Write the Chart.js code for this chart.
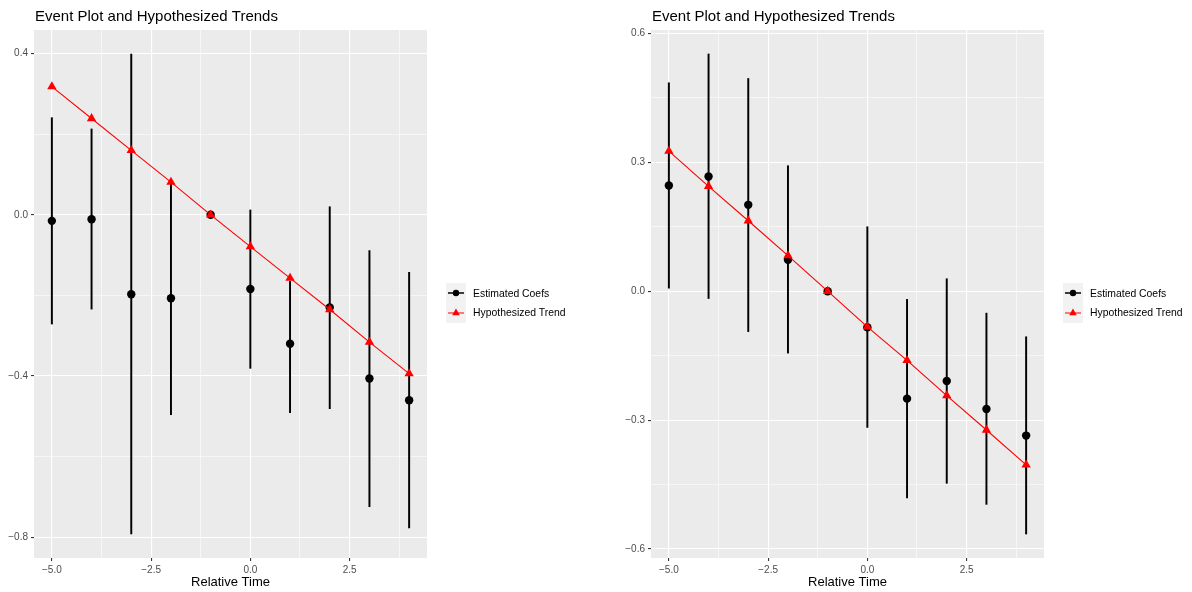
<!DOCTYPE html>
<html>
<head>
<meta charset="utf-8">
<title>Event Plot and Hypothesized Trends</title>
<script src="https://cdn.jsdelivr.net/npm/chart.js@4.4.1/dist/chart.umd.min.js"></script>
<style>
  body { margin: 0; background: #fff; }
  #wrap { position: relative; width: 1192px; height: 592px; }
  canvas { position: absolute; top: 0; }
</style>
</head>
<body>
<div id="wrap">
  <canvas id="leftPlot" width="596" height="592" style="left:0px"></canvas>
  <canvas id="rightPlot" width="596" height="592" style="left:596px"></canvas>
</div>
<script>
// data

var relTime = [-5, -4, -3, -2, -1, 0, 1, 2, 3, 4];

// left panel
var coefLeft  = [-0.015, -0.011, -0.197, -0.207, 0, -0.184, -0.320, -0.230, -0.406, -0.460];
var lowLeft   = [-0.271, -0.234, -0.792, -0.496, 0, -0.381, -0.491, -0.481, -0.724, -0.777];
var highLeft  = [ 0.241,  0.213,  0.399,  0.080, 0,  0.012, -0.165,  0.020, -0.089, -0.143];
var trendLeft = [ 0.318,  0.239,  0.160,  0.081, 0, -0.079, -0.157, -0.235, -0.316, -0.394];

// right panel
var coefRight  = [0.246, 0.267, 0.201, 0.073, 0, -0.084, -0.250, -0.209, -0.274, -0.336];
var lowRight   = [0.007, -0.017, -0.094, -0.144, 0, -0.317, -0.481, -0.447, -0.496, -0.565];
var highRight  = [0.485, 0.552, 0.495, 0.292, 0, 0.150, -0.019, 0.029, -0.051, -0.106];
var trendRight = [0.326, 0.244, 0.164, 0.083, 0, -0.083, -0.161, -0.243, -0.323, -0.404];

// ticks
var xMajor = [-5, -2.5, 0, 2.5];
var xMinor = [-3.75, -1.25, 1.25, 3.75];
var xLabels = ['\u22125.0', '\u22122.5', '0.0', '2.5'];

var yMajorLeft = [-0.8, -0.4, 0, 0.4];
var yMinorLeft = [-0.6, -0.2, 0.2];
var yLabelsLeft = ['\u22120.8', '\u22120.4', '0.0', '0.4'];

var yMajorRight = [-0.6, -0.3, 0, 0.3, 0.6];
var yMinorRight = [-0.45, -0.15, 0.15, 0.45];
var yLabelsRight = ['\u22120.6', '\u22120.3', '0.0', '0.3', '0.6'];

var titleText = 'Event Plot and Hypothesized Trends';
var legendNames = ['Estimated Coefs', 'Hypothesized Trend'];

var FONT = '"Liberation Sans", Arial, Helvetica, sans-serif';

function isMajor(list, v) {
    if (v === undefined) return -1;
    for (var i = 0; i < list.length; i++) {
        if (Math.abs(list[i] - v) < 1e-9) return i;
    }
    return -1;
}

function tickVal(c) {
    return c && c.tick ? c.tick.value : undefined;
}

// grey panel, title and legend like ggplot
var ggPlugin = {
    id: 'ggStyle',
    beforeDraw: function (chart) {
        var c = chart.ctx, a = chart.chartArea;
        c.save();
        c.fillStyle = '#ffffff';
        c.fillRect(0, 0, chart.width, chart.height);
        c.fillStyle = '#EBEBEB';
        c.fillRect(a.left, a.top, a.right - a.left, a.bottom - a.top);
        c.restore();
    },
    afterDraw: function (chart) {
        var c = chart.ctx, a = chart.chartArea;
        c.save();
        // title
        c.fillStyle = '#000';
        c.font = '15px ' + FONT;
        c.textBaseline = 'alphabetic';
        c.textAlign = 'left';
        c.fillText(titleText, a.left + 1, 21);

        // legend
        var bx = a.right + 19, by = a.top + 253;
        c.fillStyle = '#F2F2F2';
        c.fillRect(bx, by, 20, 40);
        // black key
        var cy = by + 10;
        c.strokeStyle = '#000';
        c.lineWidth = 1.5;
        c.beginPath(); c.moveTo(bx + 2, cy); c.lineTo(bx + 18, cy); c.stroke();
        c.fillStyle = '#000';
        c.beginPath(); c.arc(bx + 10, cy, 3.2, 0, Math.PI * 2); c.fill();
        // red key
        cy = by + 30;
        c.strokeStyle = '#FF0000';
        c.lineWidth = 1;
        c.beginPath(); c.moveTo(bx + 2, cy); c.lineTo(bx + 18, cy); c.stroke();
        c.fillStyle = '#FF0000';
        var r = 4.4;
        c.beginPath();
        c.moveTo(bx + 10, cy - r);
        c.lineTo(bx + 10 + r * 0.866, cy + r * 0.5);
        c.lineTo(bx + 10 - r * 0.866, cy + r * 0.5);
        c.closePath(); c.fill();

        c.fillStyle = '#000';
        c.font = '10.4px ' + FONT;
        c.textBaseline = 'middle';
        c.fillText(legendNames[0], bx + 27, by + 11);
        c.fillText(legendNames[1], bx + 27, by + 30);
        c.restore();
    }
};

function makePanel(canvasId, coef, low, high, trend, yMajor, yMinor, yLabels, yWidth, rightPad) {
    var barData = relTime.map(function (t, i) { return { x: t, y: [low[i], high[i]] }; });
    var ptData = relTime.map(function (t, i) { return { x: t, y: coef[i] }; });
    var trData = relTime.map(function (t, i) { return { x: t, y: trend[i] }; });

    // ggplot default: 5% expansion of the data range
    var lo = Math.min.apply(null, low.concat(coef, trend));
    var hi = Math.max.apply(null, high.concat(coef, trend));
    var pad = (hi - lo) * 0.05;
    var xPad = (relTime[relTime.length - 1] - relTime[0]) * 0.05;

    var xTicks = xMajor.concat(xMinor).sort(function (p, q) { return p - q; });
    var yTicks = yMajor.concat(yMinor).sort(function (p, q) { return p - q; });

    var ctx = document.getElementById(canvasId).getContext('2d');
    return new Chart(ctx, {
        type: 'scatter',
        data: {
            datasets: [{
                type: 'line',
                label: legendNames[1],
                data: trData,
                borderColor: '#FF0000',
                backgroundColor: '#FF0000',
                borderWidth: 1.1,
                pointStyle: 'triangle',
                pointRadius: 5.4,
                pointBorderWidth: 0,
                tension: 0,
                order: 0
            }, {
                type: 'scatter',
                label: legendNames[0],
                data: ptData,
                backgroundColor: '#000',
                borderColor: '#000',
                pointRadius: 4.2,
                pointBorderWidth: 0,
                order: 1
            }, {
                type: 'bar',
                label: 'ci',
                data: barData,
                backgroundColor: '#000',
                borderWidth: 0,
                barThickness: 1.3,
                grouped: false,
                order: 2
            }]
        },
        options: {
            responsive: false,
            animation: false,
            layout: { padding: { top: 30, right: rightPad, left: 0, bottom: 0 } },
            plugins: {
                legend: { display: false },
                tooltip: { enabled: false },
                title: { display: false }
            },
            scales: {
                x: {
                    type: 'linear',
                    offset: false,
                    min: relTime[0] - xPad,
                    max: relTime[relTime.length - 1] + xPad,
                    afterBuildTicks: function (s) {
                        s.ticks = xTicks.map(function (v) { return { value: v }; });
                    },
                    afterFit: function (s) { s.height = 34; },
                    border: { display: false },
                    grid: {
                        offset: false,
                        color: '#FFFFFF',
                        lineWidth: function (c) { return isMajor(xMajor, tickVal(c)) >= 0 ? 1.1 : 0.55; },
                        tickColor: function (c) { return isMajor(xMajor, tickVal(c)) >= 0 ? '#333333' : 'rgba(0,0,0,0)'; },
                        tickLength: 3,
                        tickWidth: 1.1
                    },
                    ticks: {
                        autoSkip: false,
                        maxRotation: 0,
                        padding: 3,
                        color: '#4D4D4D',
                        font: { family: FONT, size: 10 },
                        callback: function (v) {
                            var k = isMajor(xMajor, v);
                            return k >= 0 ? xLabels[k] : '';
                        }
                    },
                    title: {
                        display: true,
                        text: 'Relative Time',
                        color: '#000',
                        font: { family: FONT, size: 13 },
                        padding: { top: 0, bottom: 2 }
                    }
                },
                y: {
                    type: 'linear',
                    min: lo - pad,
                    max: hi + pad,
                    afterBuildTicks: function (s) {
                        s.ticks = yTicks.map(function (v) { return { value: v }; });
                    },
                    afterFit: function (s) { s.width = yWidth; },
                    border: { display: false },
                    grid: {
                        offset: false,
                        color: '#FFFFFF',
                        lineWidth: function (c) { return isMajor(yMajor, tickVal(c)) >= 0 ? 1.1 : 0.55; },
                        tickColor: function (c) { return isMajor(yMajor, tickVal(c)) >= 0 ? '#333333' : 'rgba(0,0,0,0)'; },
                        tickLength: 3,
                        tickWidth: 1.1
                    },
                    ticks: {
                        autoSkip: false,
                        padding: 3,
                        color: '#4D4D4D',
                        font: { family: FONT, size: 10 },
                        callback: function (v) {
                            var k = isMajor(yMajor, v);
                            return k >= 0 ? yLabels[k] : '';
                        }
                    }
                }
            }
        },
        plugins: [ggPlugin]
    });
}

window.onload = function () {
    window.leftChart = makePanel('leftPlot', coefLeft, lowLeft, highLeft, trendLeft,
        yMajorLeft, yMinorLeft, yLabelsLeft, 34, 169);
    window.rightChart = makePanel('rightPlot', coefRight, lowRight, highRight, trendRight,
        yMajorRight, yMinorRight, yLabelsRight, 55, 148);
};
</script>
</body>
</html>
